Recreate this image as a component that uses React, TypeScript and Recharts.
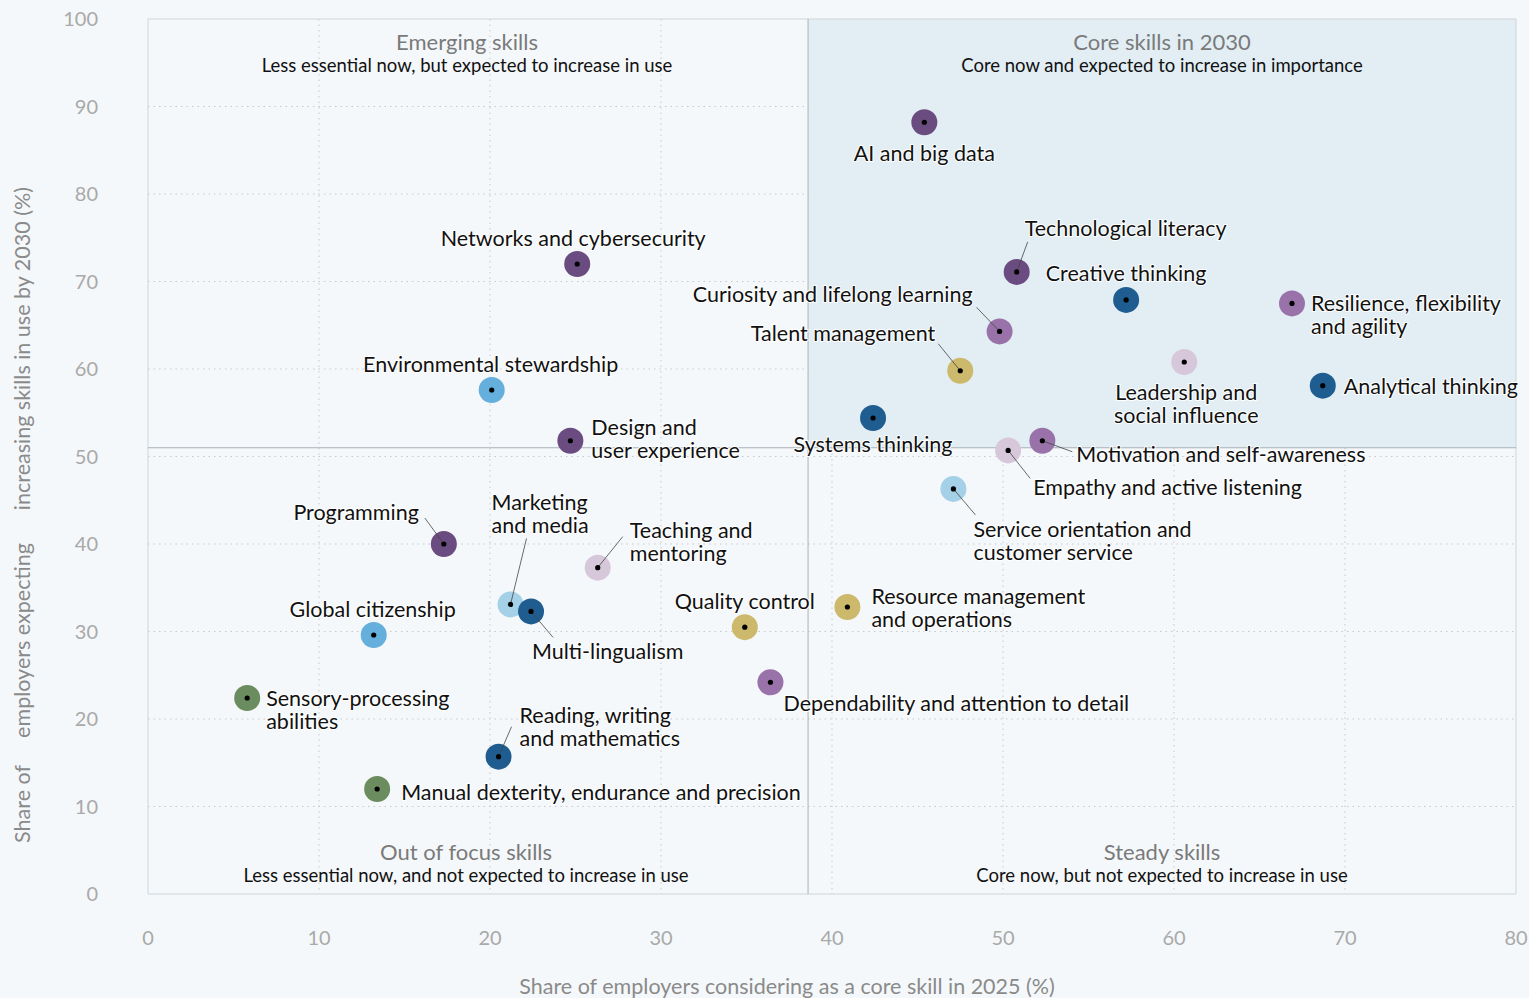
import React from "react";
import {
  CartesianGrid,
  ReferenceArea,
  ReferenceLine,
  Scatter,
  ScatterChart,
  XAxis,
  YAxis,
} from "recharts";

// values
const skills = [
  "AI and big data",
  "Networks and cybersecurity",
  "Technological literacy",
  "Creative thinking",
  "Resilience, flexibility and agility",
  "Curiosity and lifelong learning",
  "Talent management",
  "Leadership and social influence",
  "Analytical thinking",
  "Environmental stewardship",
  "Systems thinking",
  "Design and user experience",
  "Motivation and self-awareness",
  "Empathy and active listening",
  "Service orientation and customer service",
  "Programming",
  "Teaching and mentoring",
  "Marketing and media",
  "Multi-lingualism",
  "Resource management and operations",
  "Quality control",
  "Global citizenship",
  "Dependability and attention to detail",
  "Sensory-processing abilities",
  "Reading, writing and mathematics",
  "Manual dexterity, endurance and precision",
];

const coreShare2025 = [
  45.4, 25.1, 50.8, 57.2, 66.9, 49.8, 47.5, 60.6, 68.7, 20.1, 42.4, 24.7, 52.3,
  50.3, 47.1, 17.3, 26.3, 21.2, 22.4, 40.9, 34.9, 13.2, 36.4, 5.8, 20.5, 13.4,
];

const increasingBy2030 = [
  88.2, 72.0, 71.1, 67.9, 67.5, 64.3, 59.8, 60.8, 58.1, 57.6, 54.4, 51.8, 51.8,
  50.7, 46.3, 40.0, 37.3, 33.1, 32.3, 32.8, 30.5, 29.6, 24.2, 22.4, 15.7, 12.0,
];

const skillGroup = [
  "tech", "tech", "tech", "cognitive", "self", "self", "management", "others",
  "cognitive", "ethics", "cognitive", "tech", "self", "others", "engagement",
  "tech", "others", "engagement", "cognitive", "management", "management",
  "ethics", "self", "physical", "cognitive", "physical",
];

const xTicks = [0, 10, 20, 30, 40, 50, 60, 70, 80];
const yTicks = [0, 10, 20, 30, 40, 50, 60, 70, 80, 90, 100];

const coreThresholdX = 38.6;
const increaseThresholdY = 51;

const groupColors: Record<string, string> = {
  tech: "#6b4c80",
  cognitive: "#1f5d91",
  self: "#9a72aa",
  others: "#d6c7db",
  management: "#cdb96b",
  ethics: "#64afdb",
  engagement: "#a4d0e8",
  physical: "#6b8c5f",
};

// label placement: dx, dy (to first line centre), anchor, optional leader end
type Layout = { dx: number; dy: number; anchor: "start" | "middle" | "end"; lines?: string[]; leader?: [number, number] };
const labelLayout: Record<string, Layout> = {
  "AI and big data": { dx: 0, dy: 31, anchor: "middle" },
  "Networks and cybersecurity": { dx: -4, dy: -26, anchor: "middle" },
  "Technological literacy": { dx: 8, dy: -44, anchor: "start", leader: [11, -30] },
  "Creative thinking": { dx: 0, dy: -27, anchor: "middle" },
  "Resilience, flexibility and agility": { dx: 19, dy: 0, anchor: "start", lines: ["Resilience, flexibility", "and agility"] },
  "Curiosity and lifelong learning": { dx: -27, dy: -37, anchor: "end", leader: [-23, -24] },
  "Talent management": { dx: -25, dy: -38, anchor: "end", leader: [-22, -27] },
  "Leadership and social influence": { dx: 2, dy: 30, anchor: "middle", lines: ["Leadership and", "social influence"] },
  "Analytical thinking": { dx: 21, dy: 0, anchor: "start" },
  "Environmental stewardship": { dx: -1, dy: -26, anchor: "middle" },
  "Systems thinking": { dx: 0, dy: 26, anchor: "middle" },
  "Design and user experience": { dx: 21, dy: -14, anchor: "start", lines: ["Design and", "user experience"] },
  "Motivation and self-awareness": { dx: 34, dy: 13, anchor: "start", leader: [30, 11] },
  "Empathy and active listening": { dx: 25, dy: 37, anchor: "start", leader: [22, 28] },
  "Service orientation and customer service": { dx: 20, dy: 40, anchor: "start", lines: ["Service orientation and", "customer service"], leader: [22, 26] },
  Programming: { dx: -25, dy: -32, anchor: "end", leader: [-19, -26] },
  "Teaching and mentoring": { dx: 32, dy: -38, anchor: "start", lines: ["Teaching and", "mentoring"], leader: [25, -31] },
  "Marketing and media": { dx: -19, dy: -102, anchor: "start", lines: ["Marketing", "and media"], leader: [16, -66] },
  "Multi-lingualism": { dx: 1, dy: 40, anchor: "start", leader: [22, 26] },
  "Resource management and operations": { dx: 24, dy: -11, anchor: "start", lines: ["Resource management", "and operations"] },
  "Quality control": { dx: 0, dy: -26, anchor: "middle" },
  "Global citizenship": { dx: -1, dy: -26, anchor: "middle" },
  "Dependability and attention to detail": { dx: 13, dy: 21, anchor: "start" },
  "Sensory-processing abilities": { dx: 19, dy: 0, anchor: "start", lines: ["Sensory-processing", "abilities"] },
  "Reading, writing and mathematics": { dx: 21, dy: -42, anchor: "start", lines: ["Reading, writing", "and mathematics"], leader: [13, -30] },
  "Manual dexterity, endurance and precision": { dx: 24, dy: 3, anchor: "start" },
};

const chartData = skills.map((name, i) => ({
  name,
  x: coreShare2025[i],
  y: increasingBy2030[i],
  color: groupColors[skillGroup[i]],
}));

const FONT = "Lato, 'Open Sans', sans-serif";

function SkillDot(props: any) {
  const { cx, cy, payload } = props;
  if (cx == null || cy == null) return null;
  const layout = labelLayout[payload.name];
  const lines = layout.lines ?? [payload.name];
  return (
    <g>
      <circle cx={cx} cy={cy} r={13} fill={payload.color} />
      {layout.leader && (
        <line
          x1={cx}
          y1={cy}
          x2={cx + layout.leader[0]}
          y2={cy + layout.leader[1]}
          stroke="#444"
          strokeWidth={0.8}
        />
      )}
      <circle cx={cx} cy={cy} r={2.6} fill="#000" />
      <text
        x={cx + layout.dx}
        y={cy + layout.dy}
        textAnchor={layout.anchor}
        dominantBaseline="central"
        fontFamily={FONT}
        fontSize={21.5}
        fill="#111"
        stroke="#fff"
        strokeWidth={2}
        paintOrder="stroke"
      >
        {lines.map((l, i) => (
          <tspan key={i} x={cx + layout.dx} dy={i === 0 ? 0 : 23}>
            {l}
          </tspan>
        ))}
      </text>
    </g>
  );
}

function QuadrantLabel({ viewBox, title, subtitle, top, shift }: any) {
  const { x, y, width, height } = viewBox;
  const cx = x + width / 2 + shift;
  const ty = top ? y + 22 : y + height - 43;
  return (
    <g fontFamily={FONT}>
      <text x={cx} y={ty} textAnchor="middle" dominantBaseline="central" fontSize={22} fill="#7a7a7a">
        {title}
      </text>
      <text x={cx} y={ty + 24} textAnchor="middle" dominantBaseline="central" fontSize={18.5} fill="#111">
        {subtitle}
      </text>
    </g>
  );
}

function YTitle() {
  const cx = 22;
  const cy = 515;
  return (
    <text
      transform={`rotate(-90, ${cx}, ${cy})`}
      x={cx}
      y={cy}
      textAnchor="middle"
      dominantBaseline="central"
      fontFamily={FONT}
      fontSize={21.5}
      fill="#8a8a8a"
      style={{ whiteSpace: "pre" }}
    >
      {"Share of     employers expecting      increasing skills in use by 2030 (%)"}
    </text>
  );
}

export default function App() {
  return (
    <div style={{ width: 1529, height: 998, background: "#f5f8fa" }}>
      <style>{`body{margin:0;background:#f5f8fa}`}</style>
      <ScatterChart
        width={1529}
        height={998}
        margin={{ top: 19, right: 13, bottom: 0, left: 48 }}
      >
        <ReferenceArea
          x1={coreThresholdX}
          x2={80}
          y1={increaseThresholdY}
          y2={100}
          fill="#e2eef4"
          fillOpacity={1}
          stroke="none"
          ifOverflow="visible"
        />
        <CartesianGrid
          stroke="#c4c9ce"
          strokeDasharray="1.5 4"
          horizontalValues={[10, 20, 30, 40, 50, 60, 70, 80, 90]}
          verticalValues={[10, 20, 30, 40, 50, 60, 70]}
        />
        <XAxis
          type="number"
          dataKey="x"
          domain={[0, 80]}
          ticks={xTicks}
          axisLine={false}
          tickLine={false}
          tickSize={0}
          tickMargin={37}
          height={104}
          tick={{ fontFamily: FONT, fontSize: 20, fill: "#a9a9a9" }}
          label={{
            value: "Share of employers considering as a core skill in 2025 (%)",
            position: "insideBottom",
            offset: 0,
            dx: -45,
            dy: -4,
            style: { fontFamily: FONT, fontSize: 21.5, fill: "#8a8a8a" },
          }}
        />
        <YAxis
          type="number"
          dataKey="y"
          domain={[0, 100]}
          ticks={yTicks}
          axisLine={false}
          tickLine={false}
          tickSize={0}
          tickMargin={50}
          width={100}
          tick={{ fontFamily: FONT, fontSize: 20, fill: "#a9a9a9" }}
          label={<YTitle />}
        />
        <ReferenceArea
          x1={0}
          x2={80}
          y1={0}
          y2={100}
          fill="none"
          stroke="#cfd5da"
          strokeWidth={1}
          ifOverflow="visible"
        />
        <ReferenceLine x={coreThresholdX} stroke="#aab1b7" strokeWidth={1} />
        <ReferenceLine y={increaseThresholdY} stroke="#aab1b7" strokeWidth={1} />
        <ReferenceArea
          x1={0}
          x2={coreThresholdX}
          y1={increaseThresholdY}
          y2={100}
          fill="none"
          stroke="none"
          label={<QuadrantLabel top shift={-11} title="Emerging skills" subtitle="Less essential now, but expected to increase in use" />}
        />
        <ReferenceArea
          x1={coreThresholdX}
          x2={80}
          y1={increaseThresholdY}
          y2={100}
          fill="none"
          stroke="none"
          label={<QuadrantLabel top shift={0} title="Core skills in 2030" subtitle="Core now and expected to increase in importance" />}
        />
        <ReferenceArea
          x1={0}
          x2={coreThresholdX}
          y1={0}
          y2={increaseThresholdY}
          fill="none"
          stroke="none"
          label={<QuadrantLabel shift={-12} title="Out of focus skills" subtitle="Less essential now, and not expected to increase in use" />}
        />
        <ReferenceArea
          x1={coreThresholdX}
          x2={80}
          y1={0}
          y2={increaseThresholdY}
          fill="none"
          stroke="none"
          label={<QuadrantLabel shift={0} title="Steady skills" subtitle="Core now, but not expected to increase in use" />}
        />
        <Scatter data={chartData} shape={<SkillDot />} isAnimationActive={false} />
      </ScatterChart>
    </div>
  );
}
